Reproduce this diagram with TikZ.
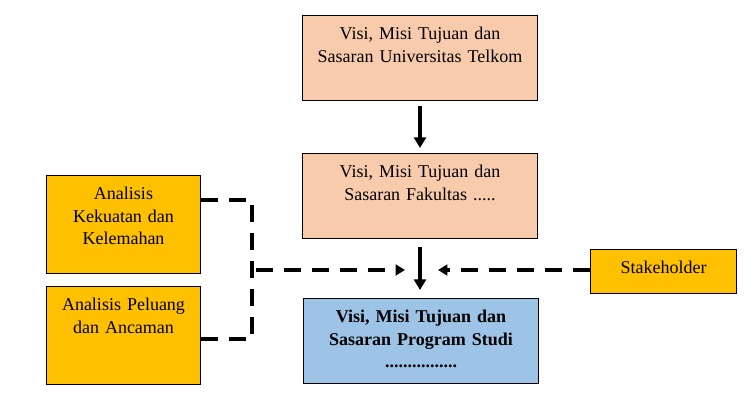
\documentclass[tikz,border=0pt]{standalone}
\usepackage{fontspec}
\setmainfont{Liberation Serif}
\usetikzlibrary{arrows.meta}
\definecolor{peach}{HTML}{F8CBAD}
\definecolor{gold}{HTML}{FFC000}
\definecolor{skyblue}{HTML}{9DC3E6}
\tikzset{
  kotak/.style={draw, line width=0.75pt, anchor=north west, inner sep=0pt, align=center,
    text height=18pt, font=\fontsize{13.5pt}{17pt}\selectfont},
  panah/.style={line width=2.6pt, -{Triangle[length=8pt,width=9pt]}},
  putus/.style={line width=3pt, dash pattern=on 12.5pt off 8.5pt},
  putuspanah/.style={putus, -{Triangle[length=7pt,width=8pt]}}
}
\begin{document}
\begin{tikzpicture}[x=0.75pt,y=-0.75pt]
    \useasboundingbox (0,0) rectangle (747,420);

    % Kotak tengah
    \node[kotak, fill=peach, text width=176.25pt, text depth=45.75pt] (univ) at (302,15)
        {Visi, Misi Tujuan dan\\Sasaran Universitas Telkom};
    \node[kotak, fill=peach, text width=176.25pt, text depth=45.75pt] (fak) at (302,153)
        {Visi, Misi Tujuan dan\\Sasaran Fakultas .....};
    \node[kotak, fill=skyblue, text width=176.25pt, text depth=45.75pt, font=\fontsize{13.5pt}{17pt}\selectfont\bfseries] (prodi) at (303,298)
        {Visi, Misi Tujuan dan\\Sasaran Program Studi\\................};

    \draw[panah, shorten <=3.75pt, shorten >=3.75pt] (univ.south) -- (fak.north);
    \draw[panah, shorten <=6pt, shorten >=6pt] (fak.south) -- (fak.south |- prodi.north);

    % Kotak kiri
    \node[kotak, fill=gold, text width=115.5pt, text depth=55.5pt] (kekuatan) at (46,175)
        {Analisis\\Kekuatan dan\\Kelemahan};
    \node[kotak, fill=gold, text width=115.5pt, text depth=55.5pt] (peluang) at (46,286)
        {Analisis Peluang\\dan Ancaman};

    \coordinate (atas) at (252,200);
    \coordinate (bawah) at (252,343);
    \coordinate (tengah) at (252,339);
    \draw[putus] (kekuatan.east |- atas) -- (atas) -- (bawah);
    \draw[putus] (peluang.east |- tengah) -- (tengah);

    \coordinate (kiri) at (256,270);
    \coordinate (kiriujung) at (405,270);
    \draw[putuspanah] (kiri) -- (kiriujung);

    % Kotak kanan
    \node[kotak, fill=gold, text width=109.5pt, text depth=15pt] (stake) at (590,249)
        {Stakeholder};
    \coordinate (kananujung) at (438,270);
    \draw[putuspanah] (stake.west |- kananujung) -- (kananujung);
\end{tikzpicture}
\end{document}
